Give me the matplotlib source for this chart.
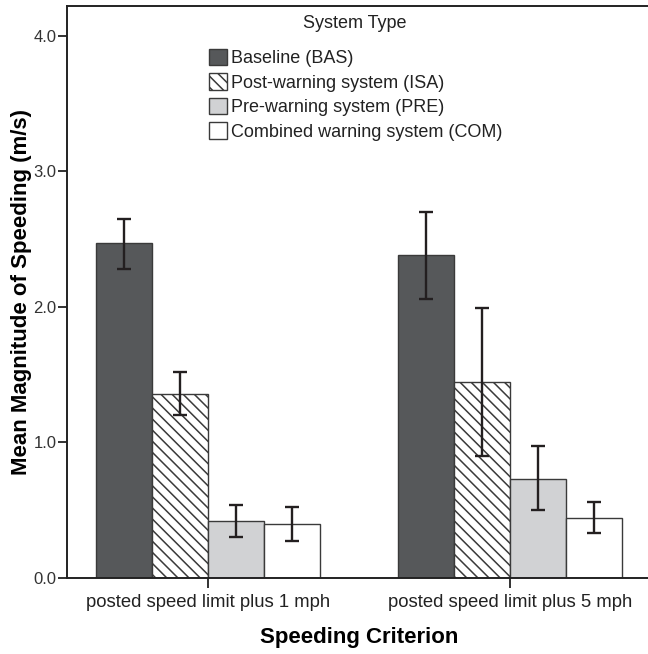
import matplotlib
matplotlib.use("Agg")
import matplotlib.pyplot as plt
import numpy as np

plt.rcParams['font.family'] = ['Liberation Sans', 'DejaVu Sans']
plt.rcParams['hatch.linewidth'] = 1.1

# Data
criteria = ["posted speed limit plus 1 mph", "posted speed limit plus 5 mph"]
systems = ["Baseline (BAS)", "Post-warning system (ISA)",
           "Pre-warning system (PRE)", "Combined warning system (COM)"]
means = {
    "BAS": [2.47, 2.38],
    "ISA": [1.36, 1.445],
    "PRE": [0.42, 0.73],
    "COM": [0.40, 0.44],
}
err_low = {
    "BAS": [2.28, 2.06],
    "ISA": [1.20, 0.90],
    "PRE": [0.305, 0.50],
    "COM": [0.275, 0.33],
}
err_high = {
    "BAS": [2.65, 2.70],
    "ISA": [1.52, 1.99],
    "PRE": [0.54, 0.97],
    "COM": [0.52, 0.56],
}
yticks = [0.0, 1.0, 2.0, 3.0, 4.0]

styles = {
    "BAS": dict(facecolor="#56585a", hatch=None),
    "ISA": dict(facecolor="white", hatch="\\\\\\"),
    "PRE": dict(facecolor="#d1d2d4", hatch=None),
    "COM": dict(facecolor="white", hatch=None),
}

W, H = 648, 654
fig = plt.figure(figsize=(W / 100, H / 100), dpi=100)
ax = fig.add_axes([67 / W, (H - 578) / H, (651 - 67) / W, (578 - 6) / H])

x = np.arange(len(criteria))
bw = 0.185
keys = list(means.keys())
handles = []
for i, k in enumerate(keys):
    pos = x + (i - 1.5) * bw
    m = np.array(means[k])
    lo = m - np.array(err_low[k])
    hi = np.array(err_high[k]) - m
    b = ax.bar(pos, m, width=bw, color=styles[k]["facecolor"],
               edgecolor="#3a3a3a", linewidth=1.0, hatch=styles[k]["hatch"],
               label=systems[i], zorder=2)
    handles.append(b)
    ax.errorbar(pos, m, yerr=[lo, hi], fmt="none", ecolor="#231f20",
                elinewidth=1.7, capsize=5.2, capthick=1.7, zorder=3)

ax.set_xlim(-0.467, 1.467)
ax.set_ylim(0, 4.218)
ax.set_xticks(x)
ax.set_xticklabels(criteria, fontsize=13.3, color="#222222")
ax.set_yticks(yticks)
ax.set_yticklabels([f"{v:.1f}" for v in yticks], fontsize=12, color="#333333")
ax.tick_params(axis="y", direction="out", length=6.5, width=1.3,
               color="#222222", pad=1)
ax.tick_params(axis="x", direction="out", length=7.5, width=1.3,
               color="#222222", pad=4)

for s in ["left", "bottom", "top"]:
    ax.spines[s].set_linewidth(1.4)
    ax.spines[s].set_color("#222222")
ax.spines["right"].set_visible(False)

ax.set_xlabel("Speeding Criterion", fontsize=16, fontweight="bold")
ax.xaxis.set_label_coords(0.5, -(638 - 578) / (578 - 6), transform=ax.transAxes)
ax.xaxis.label.set_va("center")
ax.set_ylabel("Mean Magnitude of Speeding (m/s)", fontsize=16,
              fontweight="bold")
ax.yaxis.set_label_coords(-(67 - 21) / (651 - 67), 0.5, transform=ax.transAxes)
ax.yaxis.label.set_va("center")

leg = ax.legend(handles=handles, labels=systems,
                loc="upper left", bbox_to_anchor=(209 / W, 1 - 49 / H),
                bbox_transform=fig.transFigure, frameon=False,
                fontsize=13, handlelength=1.0, handleheight=1.0,
                handletextpad=0.22, labelspacing=0.345,
                borderaxespad=0, borderpad=0)
for t in leg.get_texts():
    t.set_color("#222222")
fig.text(355 / W, 1 - 24 / H, "System Type", fontsize=13, color="#222222",
         ha="center", va="center")

fig.savefig("out.png", dpi=100)
